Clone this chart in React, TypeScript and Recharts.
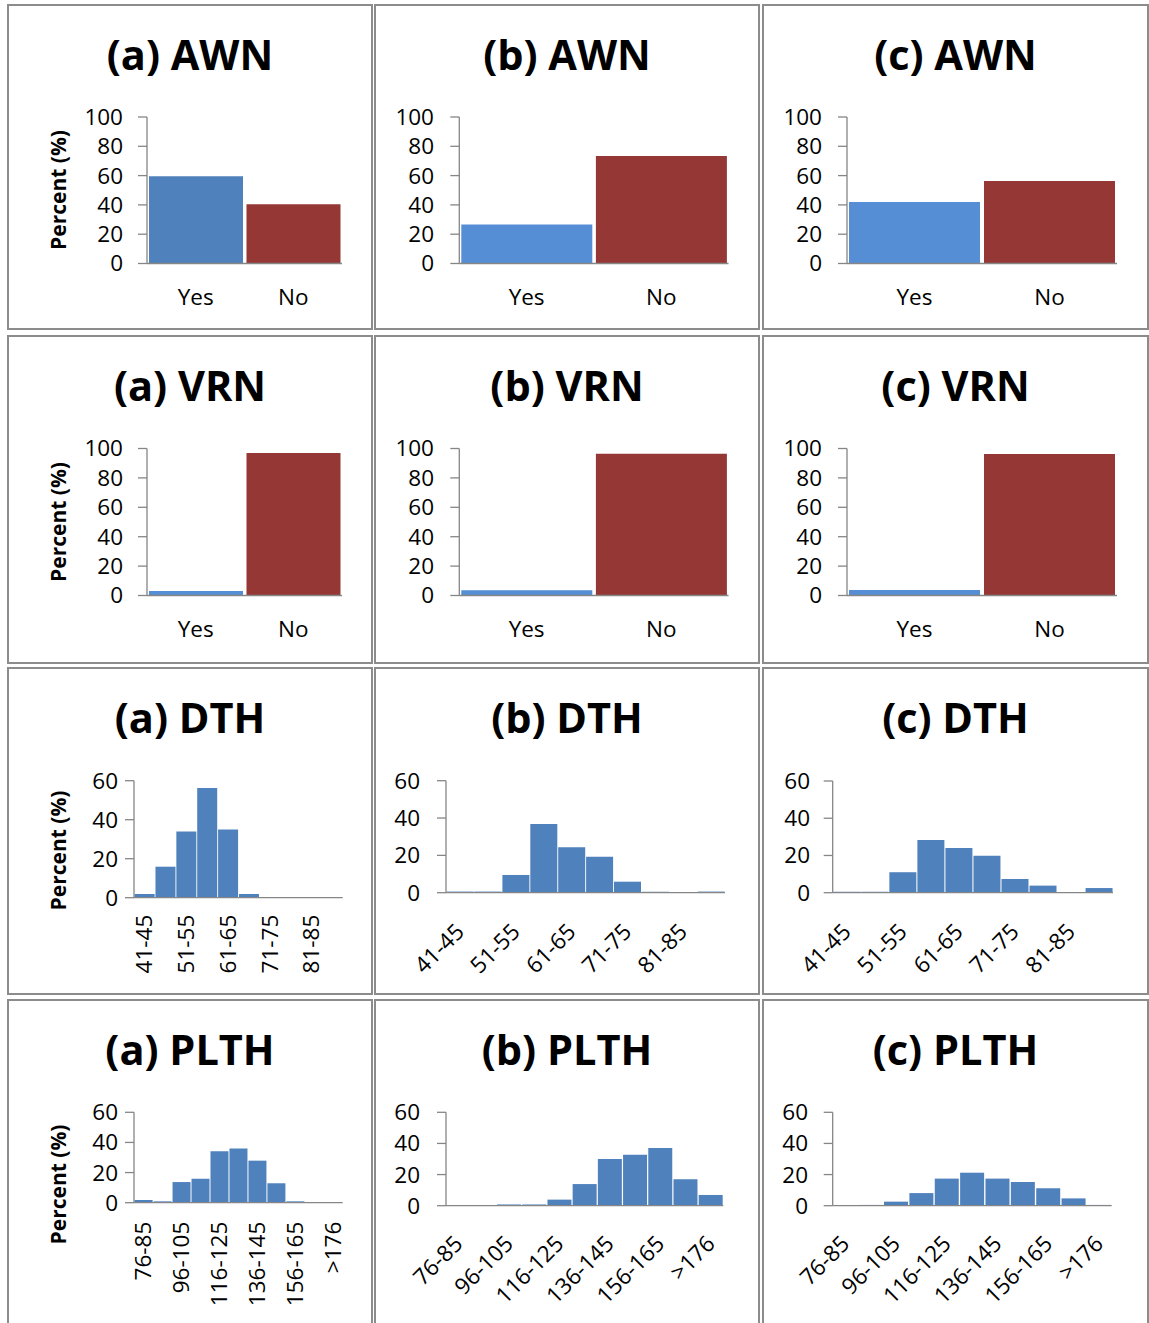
import { BarChart, Bar, XAxis, YAxis, Cell } from "recharts";

// categories
const YES_NO = ["Yes", "No"];
const DTH_BINS = ["41-45", "46-50", "51-55", "56-60", "61-65", "66-70", "71-75", "76-80", "81-85", "86-90"];
const PLTH_BINS = [
  "76-85", "86-95", "96-105", "106-115", "116-125", "126-135",
  "136-145", "146-155", "156-165", "166-175", ">176",
];

// percent values
const AWN_A = [59.5, 40.5];
const AWN_B = [26.6, 73.4];
const AWN_C = [42.0, 56.3];
const VRN_A = [3.1, 96.9];
const VRN_B = [3.6, 96.4];
const VRN_C = [3.7, 96.3];
const DTH_A = [1.9, 15.9, 34, 56.2, 35, 1.9, 0, 0, 0, 0];
const DTH_B = [0.6, 0.6, 9.5, 36.8, 24.3, 19.3, 5.9, 0.5, 0.3, 0.6];
const DTH_C = [0.5, 0.5, 11, 28.3, 24, 19.9, 7.4, 3.8, 0, 2.5];
const PLTH_A = [1.8, 0.9, 13.7, 15.9, 34.1, 35.9, 27.9, 12.9, 0.9, 0, 0];
const PLTH_B = [0, 0, 0.8, 0.8, 3.9, 13.9, 30, 32.8, 37.1, 17, 6.9];
const PLTH_C = [0, 0.5, 2.6, 8.1, 17.4, 21.2, 17.4, 15.2, 11.2, 4.7, 0.5];

const TICKS_100 = [0, 20, 40, 60, 80, 100];
const TICKS_60 = [0, 20, 40, 60];

const BLUE = "#4f81bd";
const LIGHT_BLUE = "#558ed5";
const RED = "#953735";
const AXIS = "#868686";
const FONT = "'Open Sans', 'Liberation Sans', sans-serif";
const TICK_FS = 22.5;

const COLS = [
  { x: 7, w: 366 },
  { x: 374, w: 386 },
  { x: 762, w: 387 },
];
const ROWS = [
  { y: 4, h: 326 },
  { y: 335, h: 329 },
  { y: 667, h: 328 },
  { y: 999, h: 340 },
];

type Box = { l: number; t: number; r: number; b: number };

interface PanelDef {
  title: string;
  cats: string[];
  values: number[];
  colors?: string[];
  ticks: number[];
  col: number;
  row: number;
  plot: Box;
  labelRight: number;
  angle: number;
  labelOffset: number;
  yLabelY?: number;
}

const PANELS: PanelDef[] = [
  { title: "(a) AWN", cats: YES_NO, values: AWN_A, colors: [BLUE, RED], ticks: TICKS_100, col: 0, row: 0,
    plot: { l: 147, t: 117, r: 342, b: 263.5 }, labelRight: 123, angle: 0, labelOffset: 26, yLabelY: 190 },
  { title: "(b) AWN", cats: YES_NO, values: AWN_B, colors: [LIGHT_BLUE, RED], ticks: TICKS_100, col: 1, row: 0,
    plot: { l: 459.3, t: 117, r: 728.5, b: 263.5 }, labelRight: 434, angle: 0, labelOffset: 26 },
  { title: "(c) AWN", cats: YES_NO, values: AWN_C, colors: [LIGHT_BLUE, RED], ticks: TICKS_100, col: 2, row: 0,
    plot: { l: 847, t: 117, r: 1117, b: 263.5 }, labelRight: 822, angle: 0, labelOffset: 26 },

  { title: "(a) VRN", cats: YES_NO, values: VRN_A, colors: [LIGHT_BLUE, RED], ticks: TICKS_100, col: 0, row: 1,
    plot: { l: 147, t: 448.5, r: 342, b: 595.5 }, labelRight: 123, angle: 0, labelOffset: 26, yLabelY: 522 },
  { title: "(b) VRN", cats: YES_NO, values: VRN_B, colors: [LIGHT_BLUE, RED], ticks: TICKS_100, col: 1, row: 1,
    plot: { l: 459.3, t: 448.5, r: 728.5, b: 595.5 }, labelRight: 434, angle: 0, labelOffset: 26 },
  { title: "(c) VRN", cats: YES_NO, values: VRN_C, colors: [LIGHT_BLUE, RED], ticks: TICKS_100, col: 2, row: 1,
    plot: { l: 847, t: 448.5, r: 1117, b: 595.5 }, labelRight: 822, angle: 0, labelOffset: 26 },

  { title: "(a) DTH", cats: DTH_BINS, values: DTH_A, ticks: TICKS_60, col: 0, row: 2,
    plot: { l: 134, t: 780.7, r: 342.7, b: 897.7 }, labelRight: 118, angle: -90, labelOffset: 17, yLabelY: 850.5 },
  { title: "(b) DTH", cats: DTH_BINS, values: DTH_B, ticks: TICKS_60, col: 1, row: 2,
    plot: { l: 446, t: 780.7, r: 725, b: 892.7 }, labelRight: 420, angle: -45, labelOffset: 35 },
  { title: "(c) DTH", cats: DTH_BINS, values: DTH_C, ticks: TICKS_60, col: 2, row: 2,
    plot: { l: 832.7, t: 781, r: 1113, b: 892.7 }, labelRight: 810, angle: -45, labelOffset: 35 },

  { title: "(a) PLTH", cats: PLTH_BINS, values: PLTH_A, ticks: TICKS_60, col: 0, row: 3,
    plot: { l: 134, t: 1112.3, r: 342.7, b: 1202.7 }, labelRight: 118, angle: -90, labelOffset: 19, yLabelY: 1184.5 },
  { title: "(b) PLTH", cats: PLTH_BINS, values: PLTH_B, ticks: TICKS_60, col: 1, row: 3,
    plot: { l: 446, t: 1112.3, r: 723.3, b: 1205.7 }, labelRight: 420, angle: -45, labelOffset: 34 },
  { title: "(c) PLTH", cats: PLTH_BINS, values: PLTH_C, ticks: TICKS_60, col: 2, row: 3,
    plot: { l: 832.7, t: 1112.3, r: 1111.7, b: 1205.7 }, labelRight: 808, angle: -45, labelOffset: 34 },
];

const Y_W = 60;
const X_H = 60;

function SlantTick(props: any) {
  const { x, y, payload, angle } = props;
  return (
    <g transform={`translate(${x},${y})`}>
      <text
        textAnchor="end"
        transform={`rotate(${angle})`}
        dy="0.35em"
        fontSize={TICK_FS}
        fontFamily={FONT}
        fill="#000"
      >
        {payload.value}
      </text>
    </g>
  );
}

function Panel({ p }: { p: PanelDef }) {
  const cell = { ...COLS[p.col], ...ROWS[p.row] };
  const data = p.cats.map((c, i) => ({ name: c, value: p.values[i] }));
  const hist = !p.colors;
  const margin = {
    top: p.plot.t - cell.y,
    bottom: cell.y + cell.h - p.plot.b - X_H,
    left: p.plot.l - cell.x - Y_W,
    right: cell.x + cell.w - p.plot.r,
  };
  const yMax = p.ticks[p.ticks.length - 1];

  return (
    <div style={{ position: "absolute", left: cell.x, top: cell.y, width: cell.w, height: cell.h }}>
      <BarChart
        width={cell.w}
        height={cell.h}
        data={data}
        margin={margin}
        barCategoryGap={hist ? 0.6 : 2}
        style={{ fontFamily: FONT }}
      >
        <XAxis
          dataKey="name"
          height={X_H}
          interval={hist ? 1 : 0}
          axisLine={{ stroke: AXIS, strokeWidth: 1.3 }}
          tickLine={false}
          tickSize={0}
          tickMargin={p.labelOffset}
          tick={
            p.angle === 0
              ? { fontSize: TICK_FS, fill: "#000", fontFamily: FONT }
              : (tp: any) => <SlantTick {...tp} angle={p.angle} />
          }
        />
        <YAxis
          width={Y_W}
          domain={[0, yMax]}
          ticks={p.ticks}
          interval={0}
          axisLine={{ stroke: AXIS, strokeWidth: 1.3 }}
          tickLine={{ stroke: AXIS, strokeWidth: 1.3 }}
          tickSize={9}
          tickMargin={p.plot.l - 9 - p.labelRight}
          tick={{ fontSize: TICK_FS, fill: "#000", fontFamily: FONT }}
        />
        <Bar dataKey="value" fill={BLUE} isAnimationActive={false}>
          {data.map((d, i) => (
            <Cell key={d.name} fill={p.colors ? p.colors[i] : BLUE} />
          ))}
        </Bar>
      </BarChart>
    </div>
  );
}

export default function App() {
  return (
    <div style={{ position: "absolute", left: 0, top: 0, width: 1149, height: 1323, background: "#fff", overflow: "hidden" }}>
      {PANELS.map((p) => {
        const cell = { ...COLS[p.col], ...ROWS[p.row] };
        return (
          <div
            key={p.title + "-border"}
            style={{
              position: "absolute",
              left: cell.x,
              top: cell.y,
              width: cell.w,
              height: cell.h,
              border: "2px solid #8c8c8c",
              boxSizing: "border-box",
            }}
          />
        );
      })}
      {PANELS.map((p) => (
        <Panel key={p.title} p={p} />
      ))}
      <svg
        width={1149}
        height={1323}
        style={{ position: "absolute", left: 0, top: 0, pointerEvents: "none" }}
      >
        {PANELS.map((p) => {
          const cell = { ...COLS[p.col], ...ROWS[p.row] };
          return (
            <text
              key={p.title}
              x={cell.x + cell.w / 2}
              y={cell.y + 66}
              textAnchor="middle"
              fontFamily={FONT}
              fontWeight={700}
              fontSize={41.5}
              fill="#000"
            >
              {p.title}
            </text>
          );
        })}
        {PANELS.filter((p) => p.yLabelY !== undefined).map((p) => (
          <text
            key={p.title + "-ylab"}
            transform={`translate(66,${p.yLabelY}) rotate(-90)`}
            textAnchor="middle"
            fontFamily={FONT}
            fontWeight={700}
            fontSize={21}
            fill="#000"
          >
            Percent (%)
          </text>
        ))}
      </svg>
    </div>
  );
}
